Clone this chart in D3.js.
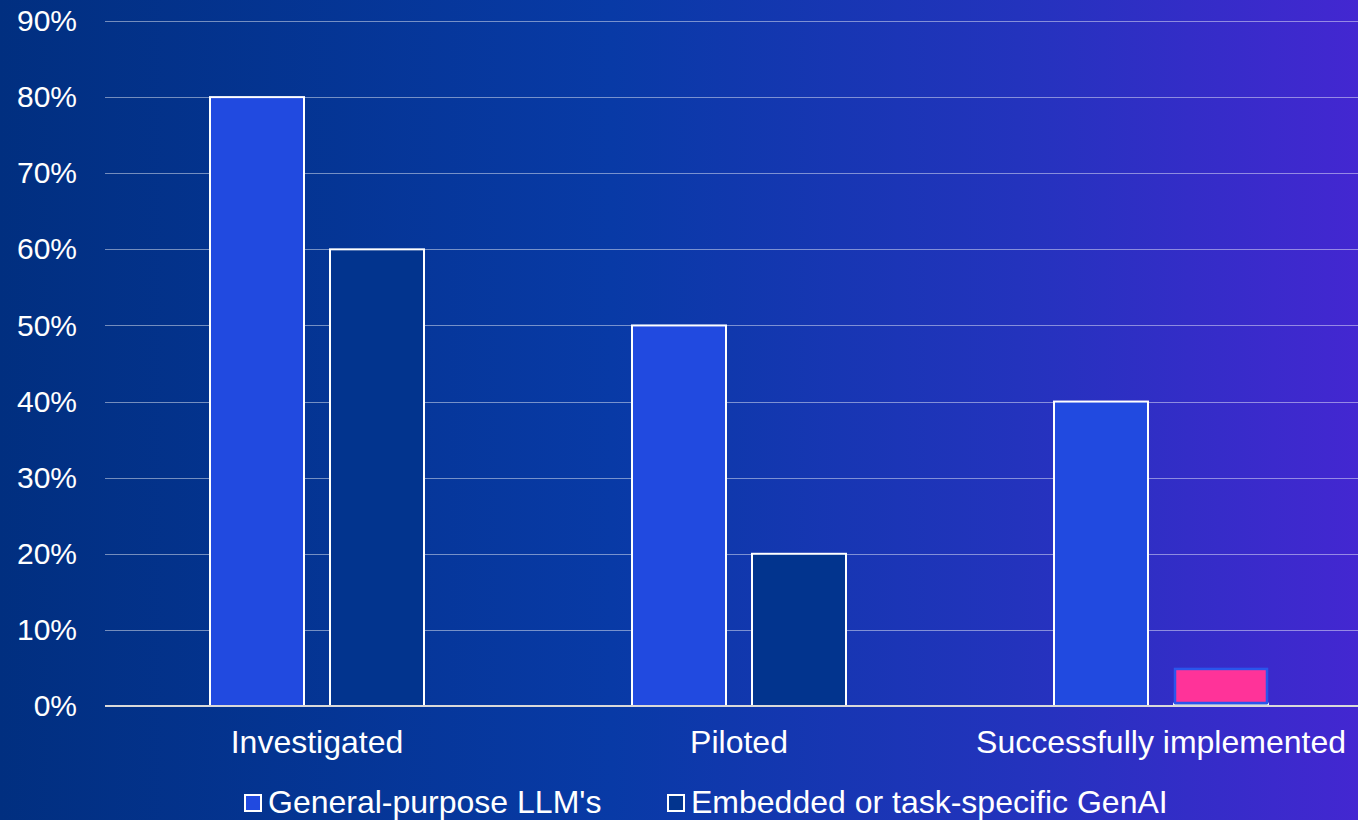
<!DOCTYPE html>
<html>
<head>
<meta charset="utf-8">
<script src="https://cdn.jsdelivr.net/npm/d3@7"></script>
<style>
  html, body { margin: 0; padding: 0; background: #05309a; }
  svg { display: block; }
  text { font-family: "Liberation Sans", Arial, sans-serif; fill: #ffffff; }
</style>
</head>
<body>
<svg id="chart" width="1358" height="820"></svg>
<script>
// Adoption stages and the share of respondents for each kind of GenAI tool
const categories = ["Investigated", "Piloted", "Successfully implemented"];
const seriesNames = ["General-purpose LLM's", "Embedded or task-specific GenAI"];
const generalPurpose = [0.80, 0.50, 0.40];
const embedded = [0.60, 0.20, 0.003];
// Highlighted block drawn over the last embedded bar
const highlight = [null, null, 0.05];
const yTicks = [0, 0.1, 0.2, 0.3, 0.4, 0.5, 0.6, 0.7, 0.8, 0.9];

const seriesColors = ["#214ae0", "#02348e"];

const W = 1358, H = 820;
const svg = d3.select("#chart");

// Background gradient, dark navy on the left to violet on the right
const defs = svg.append("defs");
const grad = defs.append("linearGradient").attr("id", "bg")
  .attr("x1", "0%").attr("x2", "100%").attr("y1", "0%").attr("y2", "0%");
grad.append("stop").attr("offset", "0%").attr("stop-color", "#012f80");
grad.append("stop").attr("offset", "45%").attr("stop-color", "#083aa6");
grad.append("stop").attr("offset", "75%").attr("stop-color", "#2333bd");
grad.append("stop").attr("offset", "100%").attr("stop-color", "#4327d1");
svg.append("rect").attr("width", W).attr("height", H).attr("fill", "url(#bg)");

const gridLeft = 105, gridRight = W;
const y = d3.scaleLinear().domain([0, 0.9]).range([706, 21]);
const x0 = d3.scaleBand().domain(categories).range([106, 1372]).paddingInner(0).paddingOuter(0);
const x1 = d3.scaleBand().domain(seriesNames).range([0, x0.bandwidth()])
  .paddingInner(0.2167).paddingOuter(0.8667);

// Horizontal gridlines
svg.append("g").selectAll("line").data(yTicks.filter(d => d > 0)).join("line")
  .attr("x1", gridLeft).attr("x2", gridRight)
  .attr("y1", d => Math.round(y(d)) + 0.5).attr("y2", d => Math.round(y(d)) + 0.5)
  .attr("stroke", "#ffffff").attr("stroke-opacity", 0.45).attr("stroke-width", 1);

// Y axis tick labels
const yAxis = d3.axisLeft(y).tickValues(yTicks).tickFormat(d3.format(".0%")).tickSize(0).tickPadding(0);
const gy = svg.append("g").attr("transform", "translate(77,0)").call(yAxis);
gy.select(".domain").remove();
gy.selectAll("text").attr("font-size", 30).attr("fill", "#ffffff")
  .style("font-family", '"Liberation Sans", Arial, sans-serif');

// Bars
const rows = categories.map((c, i) => ({ c, vals: [generalPurpose[i], embedded[i]] }));
const groups = svg.append("g").selectAll("g").data(rows).join("g")
  .attr("transform", d => `translate(${x0(d.c)},0)`);
groups.selectAll("rect").data(d => d.vals.map((v, j) => ({ v, s: seriesNames[j], j })))
  .join("rect")
  .attr("x", d => x1(d.s))
  .attr("width", x1.bandwidth())
  .attr("y", d => y(d.v))
  .attr("height", d => y(0) - y(d.v))
  .attr("fill", d => seriesColors[d.j])
  .attr("stroke", "#ffffff").attr("stroke-width", 2);

// Pink highlight block
svg.append("g").selectAll("rect").data(categories.map((c, i) => ({ c, v: highlight[i] })).filter(d => d.v != null))
  .join("rect")
  .attr("x", d => x0(d.c) + x1(seriesNames[1]) + 1)
  .attr("width", x1.bandwidth() - 2)
  .attr("y", d => y(d.v) + 1)
  .attr("height", d => y(0) - y(d.v) - 4)
  .attr("fill", "#ff3399")
  .attr("stroke", "#2a55ec").attr("stroke-width", 2.5);

// Zero baseline
svg.append("line").attr("x1", gridLeft).attr("x2", gridRight)
  .attr("y1", y(0)).attr("y2", y(0))
  .attr("stroke", "#d9d9d9").attr("stroke-width", 2);

// Category labels
const xAxis = d3.axisBottom(x0).tickSize(0).tickPadding(0);
const gx = svg.append("g").attr("transform", `translate(0,${y(0)})`).call(xAxis);
gx.select(".domain").remove();
gx.selectAll("text").attr("font-size", 32).attr("fill", "#ffffff").attr("dy", null).attr("y", 47)
  .style("font-family", '"Liberation Sans", Arial, sans-serif');

// Legend
const legendItems = [
  { name: seriesNames[0], color: seriesColors[0], x: 244 },
  { name: seriesNames[1], color: seriesColors[1], x: 667 }
];
const lg = svg.append("g").selectAll("g").data(legendItems).join("g")
  .attr("transform", d => `translate(${d.x},0)`);
lg.append("rect").attr("x", 1).attr("y", 795).attr("width", 16).attr("height", 16)
  .attr("fill", d => d.color).attr("stroke", "#ffffff").attr("stroke-width", 2);
lg.append("text").attr("x", 24).attr("y", 813).attr("font-size", 32).text(d => d.name);
</script>
</body>
</html>
